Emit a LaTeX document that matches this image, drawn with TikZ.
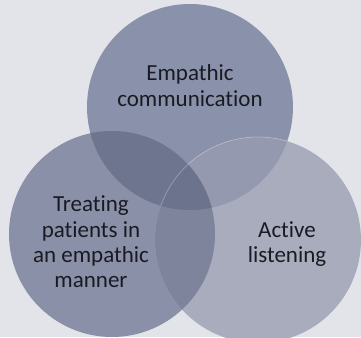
\documentclass[tikz,border=0pt]{standalone}
\usepackage{fontspec}
\setmainfont{Carlito}[Ligatures={NoCommon,NoDiscretionary,NoContextual}]
\definecolor{bg}{HTML}{E3E4EA}
\definecolor{ctop}{HTML}{8A92AB}
\definecolor{cleft}{HTML}{8990A8}
\definecolor{cright}{HTML}{A8ACBD}
\definecolor{ctl}{HTML}{6E758E}
\definecolor{ctr}{HTML}{9499AF}
\definecolor{clr}{HTML}{7D849C}
\definecolor{call}{HTML}{6C738C}
\definecolor{txt}{HTML}{1A1B22}
\begin{document}
\begin{tikzpicture}[x=1pt,y=-1pt,
  lbl/.style={font=\fontsize{23}{25}\selectfont, text=txt, anchor=base, inner sep=0pt}]
\useasboundingbox (0,0) rectangle (361,337);
\fill[bg] (0,0) rectangle (361,337);
\coordinate (T) at (190,107);
\coordinate (L) at (112,234);
\coordinate (R) at (258,240);
\def\rr{103pt}
\fill[ctop] (T) circle[radius=\rr];
\fill[cleft] (L) circle[radius=\rr];
\fill[cright] (R) circle[radius=\rr];
\begin{scope}
  \clip (T) circle[radius=\rr];
  \fill[ctr] (R) circle[radius=\rr];
  \fill[ctl] (L) circle[radius=\rr];
\end{scope}
\begin{scope}
  \clip (L) circle[radius=\rr];
  \fill[clr] (R) circle[radius=\rr];
  \clip (T) circle[radius=\rr];
  \fill[call] (R) circle[radius=\rr];
\end{scope}
\begin{scope}
  \clip (T) circle[radius=\rr];
  \draw[white, opacity=0.3, line width=0.7pt] (R) circle[radius=\rr];
\end{scope}
\node[lbl] (e1) at (190,81) {Empathic};
\node[lbl] (e2) at (190,106) {communication};
\node[lbl] (t1) at (91,211) {Treating};
\node[lbl] (t2) at (91,237) {patients in};
\node[lbl] (t3) at (91,262) {an empathic};
\node[lbl] (t4) at (91,287) {manner};
\node[lbl] (a1) at (287,237) {Active};
\node[lbl] (a2) at (287,262) {listening};
\end{tikzpicture}
\end{document}
